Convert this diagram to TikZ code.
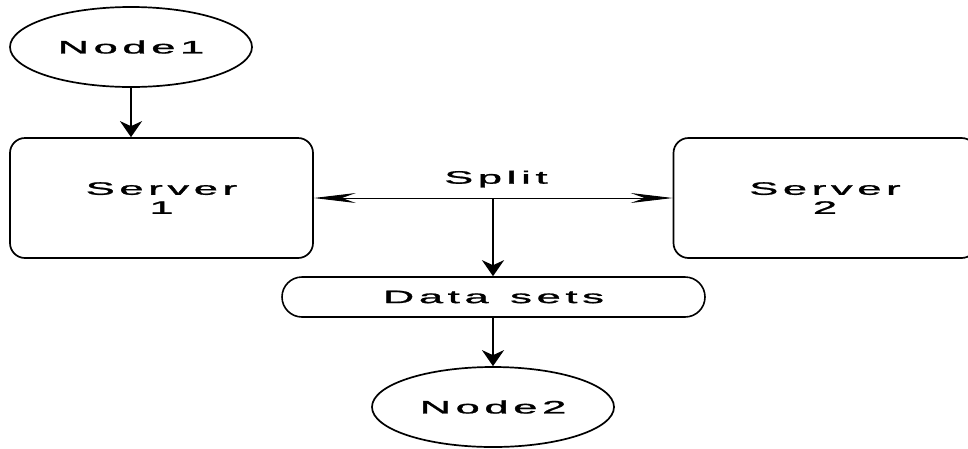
\documentclass[tikz,border=0pt]{standalone}
\usepackage{fontspec}
\usepackage{graphicx}
\setmainfont{Liberation Sans}
\newfontfamily\dfont[FakeBold=1.2]{Liberation Sans}
\def\spacedaux#1{\ifx#1\relax\else#1\kern2.0pt\expandafter\spacedaux\fi}
\newcommand{\widetxt}[1]{\scalebox{2.4}[1]{\spacedaux#1\relax\kern-2.0pt}}
\usetikzlibrary{arrows.meta,shapes.geometric}
\begin{document}
\begin{tikzpicture}[x=1pt,y=-1pt,
  txt/.style={font=\dfont\fontsize{18}{19}\selectfont, align=center, inner sep=0pt},
  ellnode/.style={txt, draw, line width=1.7pt, ellipse, minimum width=242pt, minimum height=80pt},
  serverbox/.style={txt, draw, line width=1.7pt, rectangle, rounded corners=15pt, minimum width=303pt, minimum height=120pt},
  databox/.style={txt, draw, line width=1.6pt, rectangle, rounded corners=20pt, minimum width=423pt, minimum height=40pt},
  bigarrow/.style={line width=2.3pt, -{Stealth[length=16pt,width=22pt,inset=5pt]}},
  thinarrow/.style={line width=0.9pt, {Stealth[length=42pt,width=10pt,inset=14pt]}-{Stealth[length=42pt,width=10pt,inset=14pt]}}]
\useasboundingbox (0,0) rectangle (968,448);
\clip (0,0) rectangle (968,448);
\node[ellnode] (n1) at (131,47) {\widetxt{Node1}};
\node[serverbox] (s1) at (161.5,198) {\widetxt{Server}\\\widetxt{1}};
\node[serverbox] (s2) at (825,198) {\widetxt{Server}\\\widetxt{2}};
\node[txt] (split) at (496,179) {\widetxt{Split}};
\node[databox] (ds) at (493.5,297) {\widetxt{Data\ sets}};
\node[ellnode] (n2) at (493,407) {\widetxt{Node2}};
\coordinate (sp) at (493,198);
\draw[bigarrow] (n1.south) -- (n1.south |- s1.north);
\draw[thinarrow] (s1.east) -- (s2.west);
\draw[bigarrow] (sp) -- (sp |- ds.north);
\draw[bigarrow] (ds.south -| n2.north) -- (n2.north);
\end{tikzpicture}
\end{document}
